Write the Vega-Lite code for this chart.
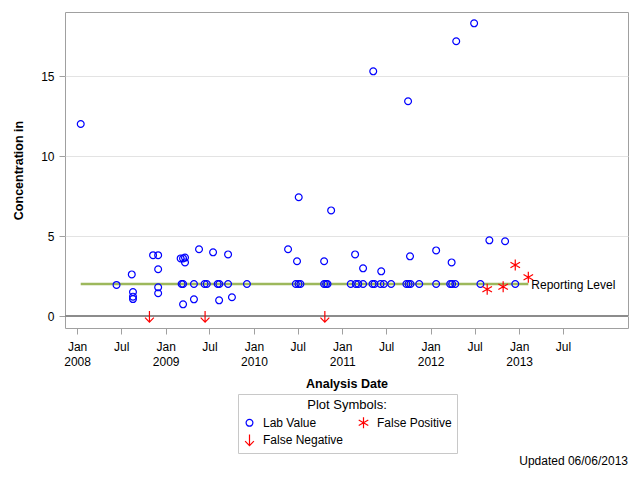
{
  "$schema": "https://vega.github.io/schema/vega-lite/v6.json",
  "width": 563,
  "height": 316,
  "autosize": {"type": "none"},
  "padding": {"left": 65, "top": 12, "right": 12, "bottom": 152},
  "background": "white",
  "config": {
    "font": "Liberation Sans",
    "view": {"stroke": "#a0a0a0", "strokeWidth": 1},
    "axis": {
      "domain": false,
      "labelFont": "Liberation Sans",
      "labelFontSize": 12,
      "labelColor": "black",
      "titleFont": "Liberation Sans",
      "titleFontSize": 12.5,
      "titleFontWeight": "bold",
      "titleColor": "black",
      "tickColor": "#a0a0a0",
      "tickSize": 6,
      "gridColor": "#e3e3e3"
    }
  },
  "title": {"text": "Updated 06/06/2013", "orient": "bottom", "anchor": "end", "frame": "group", "fontSize": 12, "fontWeight": "normal", "color": "black", "font": "Liberation Sans", "offset": 2},
  "datasets": {
    "ref": [
      {"date": "2008-01-16", "level": 2, "label": ""},
      {"date": "2013-02-08", "level": 2, "label": "Reporting Level"}
    ],
    "obs": [
      {"date": "2008-01-16", "value": 12, "type": "Lab Value"},
      {"date": "2008-06-12", "value": 1.94, "type": "Lab Value"},
      {"date": "2008-08-14", "value": 2.6, "type": "Lab Value"},
      {"date": "2008-08-19", "value": 1.5, "type": "Lab Value"},
      {"date": "2008-08-19", "value": 1.21, "type": "Lab Value"},
      {"date": "2008-08-19", "value": 1.06, "type": "Lab Value"},
      {"date": "2008-11-10", "value": 3.8, "type": "Lab Value"},
      {"date": "2008-12-01", "value": 3.8, "type": "Lab Value"},
      {"date": "2008-12-01", "value": 2.92, "type": "Lab Value"},
      {"date": "2008-12-01", "value": 1.79, "type": "Lab Value"},
      {"date": "2008-12-01", "value": 1.42, "type": "Lab Value"},
      {"date": "2009-03-04", "value": 3.6, "type": "Lab Value"},
      {"date": "2009-03-14", "value": 3.6, "type": "Lab Value"},
      {"date": "2009-03-22", "value": 3.65, "type": "Lab Value"},
      {"date": "2009-03-22", "value": 3.35, "type": "Lab Value"},
      {"date": "2009-03-08", "value": 2, "type": "Lab Value"},
      {"date": "2009-03-14", "value": 2, "type": "Lab Value"},
      {"date": "2009-03-14", "value": 0.73, "type": "Lab Value"},
      {"date": "2009-04-28", "value": 2, "type": "Lab Value"},
      {"date": "2009-04-28", "value": 1.04, "type": "Lab Value"},
      {"date": "2009-05-19", "value": 4.17, "type": "Lab Value"},
      {"date": "2009-06-11", "value": 2, "type": "Lab Value"},
      {"date": "2009-06-20", "value": 2, "type": "Lab Value"},
      {"date": "2009-07-16", "value": 3.98, "type": "Lab Value"},
      {"date": "2009-08-04", "value": 2, "type": "Lab Value"},
      {"date": "2009-08-11", "value": 2, "type": "Lab Value"},
      {"date": "2009-08-10", "value": 0.98, "type": "Lab Value"},
      {"date": "2009-09-16", "value": 3.85, "type": "Lab Value"},
      {"date": "2009-09-16", "value": 2, "type": "Lab Value"},
      {"date": "2009-10-02", "value": 1.17, "type": "Lab Value"},
      {"date": "2009-12-03", "value": 2, "type": "Lab Value"},
      {"date": "2010-05-22", "value": 4.17, "type": "Lab Value"},
      {"date": "2010-06-23", "value": 2, "type": "Lab Value"},
      {"date": "2010-06-28", "value": 3.42, "type": "Lab Value"},
      {"date": "2010-07-04", "value": 2, "type": "Lab Value"},
      {"date": "2010-07-05", "value": 7.42, "type": "Lab Value"},
      {"date": "2010-07-12", "value": 2, "type": "Lab Value"},
      {"date": "2010-10-18", "value": 3.42, "type": "Lab Value"},
      {"date": "2010-10-18", "value": 2, "type": "Lab Value"},
      {"date": "2010-10-26", "value": 2, "type": "Lab Value"},
      {"date": "2010-11-01", "value": 2, "type": "Lab Value"},
      {"date": "2010-11-16", "value": 6.6, "type": "Lab Value"},
      {"date": "2011-02-05", "value": 2, "type": "Lab Value"},
      {"date": "2011-02-23", "value": 3.85, "type": "Lab Value"},
      {"date": "2011-02-26", "value": 2, "type": "Lab Value"},
      {"date": "2011-03-08", "value": 2, "type": "Lab Value"},
      {"date": "2011-03-28", "value": 2, "type": "Lab Value"},
      {"date": "2011-03-28", "value": 2.98, "type": "Lab Value"},
      {"date": "2011-05-06", "value": 2, "type": "Lab Value"},
      {"date": "2011-05-09", "value": 15.29, "type": "Lab Value"},
      {"date": "2011-05-14", "value": 2, "type": "Lab Value"},
      {"date": "2011-06-08", "value": 2, "type": "Lab Value"},
      {"date": "2011-06-11", "value": 2.79, "type": "Lab Value"},
      {"date": "2011-06-22", "value": 2, "type": "Lab Value"},
      {"date": "2011-07-22", "value": 2, "type": "Lab Value"},
      {"date": "2011-09-23", "value": 2, "type": "Lab Value"},
      {"date": "2011-09-30", "value": 13.42, "type": "Lab Value"},
      {"date": "2011-10-02", "value": 2, "type": "Lab Value"},
      {"date": "2011-10-08", "value": 3.73, "type": "Lab Value"},
      {"date": "2011-10-10", "value": 2, "type": "Lab Value"},
      {"date": "2011-11-15", "value": 2, "type": "Lab Value"},
      {"date": "2012-01-24", "value": 2, "type": "Lab Value"},
      {"date": "2012-01-24", "value": 4.1, "type": "Lab Value"},
      {"date": "2012-03-22", "value": 2, "type": "Lab Value"},
      {"date": "2012-03-28", "value": 3.35, "type": "Lab Value"},
      {"date": "2012-03-30", "value": 2, "type": "Lab Value"},
      {"date": "2012-04-12", "value": 2, "type": "Lab Value"},
      {"date": "2012-04-16", "value": 17.17, "type": "Lab Value"},
      {"date": "2012-06-29", "value": 18.29, "type": "Lab Value"},
      {"date": "2012-07-25", "value": 2, "type": "Lab Value"},
      {"date": "2012-08-31", "value": 4.73, "type": "Lab Value"},
      {"date": "2012-11-04", "value": 4.67, "type": "Lab Value"},
      {"date": "2012-12-16", "value": 2, "type": "Lab Value"},
      {"date": "2012-08-22", "value": 1.67, "type": "False Positive"},
      {"date": "2012-10-27", "value": 1.83, "type": "False Positive"},
      {"date": "2012-12-16", "value": 3.19, "type": "False Positive"},
      {"date": "2013-02-08", "value": 2.42, "type": "False Positive"},
      {"date": "2008-10-26", "value": 0, "type": "False Negative"},
      {"date": "2009-06-13", "value": 0, "type": "False Negative"},
      {"date": "2010-10-21", "value": 0, "type": "False Negative"}
    ]
  },
  "layer": [
    {
      "data": {"name": "obs"},
      "mark": {"type": "rule", "color": "#8c8c8c", "strokeWidth": 2},
      "encoding": {
        "y": {"datum": 0, "type": "quantitative"}
      }
    },
    {
      "data": {"name": "ref"},
      "mark": {"type": "line", "color": "#9db85c", "strokeWidth": 2.5},
      "encoding": {
        "x": {"field": "date", "type": "temporal"},
        "y": {"field": "level", "type": "quantitative"}
      }
    },
    {
      "data": {"name": "obs"},
      "mark": {"type": "point", "filled": false, "size": 121, "strokeWidth": 1.2, "opacity": 1},
      "encoding": {
        "x": {
          "field": "date",
          "type": "temporal",
          "scale": {"type": "utc", "domain": [{"year": 2007, "month": 11, "date": 12, "utc": true}, {"year": 2014, "month": 3, "date": 27, "utc": true}], "nice": false},
          "axis": {
            "title": "Analysis Date",
            "grid": false,
            "values": [
              {"year": 2008, "month": 1, "date": 1, "utc": true},
              {"year": 2008, "month": 7, "date": 1, "utc": true},
              {"year": 2009, "month": 1, "date": 1, "utc": true},
              {"year": 2009, "month": 7, "date": 1, "utc": true},
              {"year": 2010, "month": 1, "date": 1, "utc": true},
              {"year": 2010, "month": 7, "date": 1, "utc": true},
              {"year": 2011, "month": 1, "date": 1, "utc": true},
              {"year": 2011, "month": 7, "date": 1, "utc": true},
              {"year": 2012, "month": 1, "date": 1, "utc": true},
              {"year": 2012, "month": 7, "date": 1, "utc": true},
              {"year": 2013, "month": 1, "date": 1, "utc": true},
              {"year": 2013, "month": 7, "date": 1, "utc": true}
            ],
            "labelExpr": "utcFormat(datum.value, '%m') == '01' ? [utcFormat(datum.value, '%b'), utcFormat(datum.value, '%Y')] : utcFormat(datum.value, '%b')",
            "labelLineHeight": 15,
            "labelPadding": 7,
            "labelFlush": false,
            "labelOverlap": false,
            "titlePadding": 10
          }
        },
        "y": {
          "field": "value",
          "type": "quantitative",
          "scale": {"domain": [-0.75, 19], "nice": false, "zero": false},
          "axis": {
            "title": "Concentration in",
            "values": [0, 5, 10, 15],
            "grid": true,
            "labelPadding": 5,
            "titlePadding": 15
          }
        },
        "shape": {
          "field": "type",
          "type": "nominal",
          "scale": {
            "domain": ["Lab Value", "False Positive", "False Negative"],
            "range": [
              "M-1,-1M1,1M0.62,0A0.62,0.62,0,1,1,-0.62,0A0.62,0.62,0,1,1,0.62,0Z",
              "M-1,-1M1,1M0,-1L0,1M-0.87,-0.5L0.87,0.5M-0.87,0.5L0.87,-0.5",
              "M-1,-1M1,1M0,-0.9L0,1.1M-0.8,0.3L0,1.1L0.8,0.3"
            ]
          },
          "legend": {
            "title": "Plot Symbols:",
            "orient": "none",
            "legendX": 173,
            "legendY": 382,
            "columns": 2,
            "direction": "horizontal",
            "symbolSize": 121,
            "symbolStrokeWidth": 1.2,
            "labelFontSize": 12,
            "labelFont": "Liberation Sans",
            "labelColor": "black",
            "labelOffset": 7,
            "columnPadding": 11,
            "rowPadding": 0,
            "padding": 5,
            "strokeColor": "#c8c8c8",
            "titleAnchor": "middle",
            "titleFontWeight": "normal",
            "titleFontSize": 13,
            "titleFont": "Liberation Sans",
            "titleColor": "black",
            "titlePadding": 4
          }
        },
        "color": {
          "field": "type",
          "type": "nominal",
          "scale": {
            "domain": ["Lab Value", "False Positive", "False Negative"],
            "range": ["#0000ff", "#ff0000", "#ff0000"]
          }
        }
      }
    },
    {
      "data": {"name": "ref"},
      "mark": {"type": "text", "align": "left", "baseline": "middle", "dx": 3, "dy": 1, "fontSize": 12, "color": "black", "font": "Liberation Sans"},
      "encoding": {
        "x": {"field": "date", "type": "temporal"},
        "y": {"field": "level", "type": "quantitative"},
        "text": {"field": "label"}
      }
    }
  ]
}
